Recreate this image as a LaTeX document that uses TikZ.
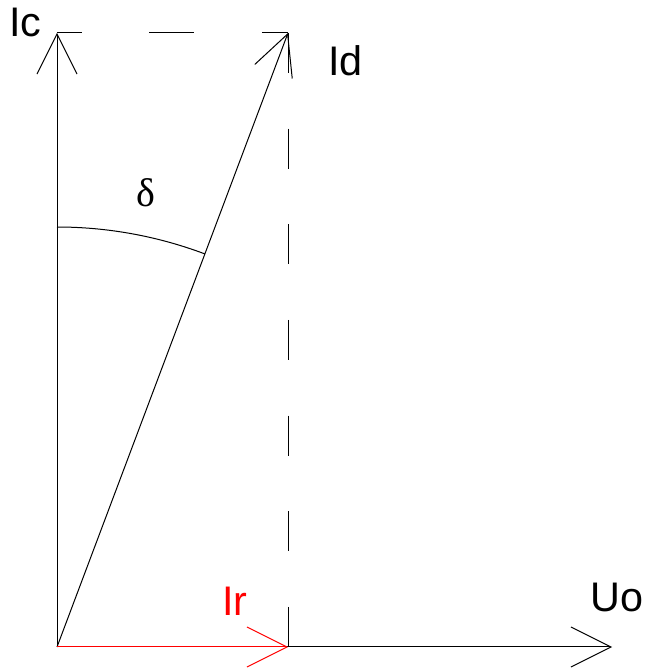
\documentclass[tikz,border=0pt]{standalone}
\usepackage{fontspec}
\setmainfont{Liberation Sans}
\newfontfamily\greekserif{Liberation Serif}
\usetikzlibrary{arrows.meta}
\usepackage{xcolor}
\definecolor{inkblack}{HTML}{000000}
\definecolor{phasorred}{HTML}{FF0000}
\tikzset{
  vec/.style    ={draw=inkblack, line width=0.75pt,
                  -{Straight Barb[length=30pt, width=30pt, line width=0.75pt]}},
  redvec/.style ={vec, draw=phasorred},
  proj/.style   ={draw=inkblack, line width=0.75pt},
  lbl/.style    ={anchor=base west, inner sep=0pt, font=\fontsize{31pt}{36pt}\selectfont, text=inkblack},
}

\begin{document}
\begin{tikzpicture}[x=0.75pt, y=0.75pt]
\useasboundingbox (0,0) rectangle (645,669);

% ---------------- phasor end points ----------------
\coordinate (O)    at ( 57, 22);
\coordinate (Ic)   at ( 57,636);
\coordinate (Id)   at (288,636);
\coordinate (Ir)   at (288, 22);
\coordinate (Uo)   at (612, 22);

% ---------------- projections ----------------
\draw[proj, dash pattern=on 33.75pt off 50.6pt, dash phase=15pt] (Ic) -- (Id);
\draw[proj, dash pattern=on 30pt off 41.75pt] (Id) -- (Ir);

% ---------------- phasors ----------------
\draw[vec] (O) -- (Uo);
\draw[vec] (O) -- (Ic);
\draw[vec] (O) -- (Id);
\draw[redvec] (O) -- (Ir);

% ---------------- angle ----------------
\draw[proj] (O) ++(90:315pt) arc[start angle=90, end angle=69.4, radius=315pt];

% ---------------- labels ----------------
\node[lbl] (lblIc) at (  9,632) {Ic};
\node[lbl] (lblId) at (328,593) {Id};
\node[lbl, text=phasorred] (lblIr) at (222, 54) {Ir};
\node[lbl] (lblUo) at (590, 57) {Uo};
\node[inner sep=0pt, font=\greekserif\fontsize{30pt}{34pt}\selectfont] (lbldelta) at (146,476) {δ};

\end{tikzpicture}
\end{document}
